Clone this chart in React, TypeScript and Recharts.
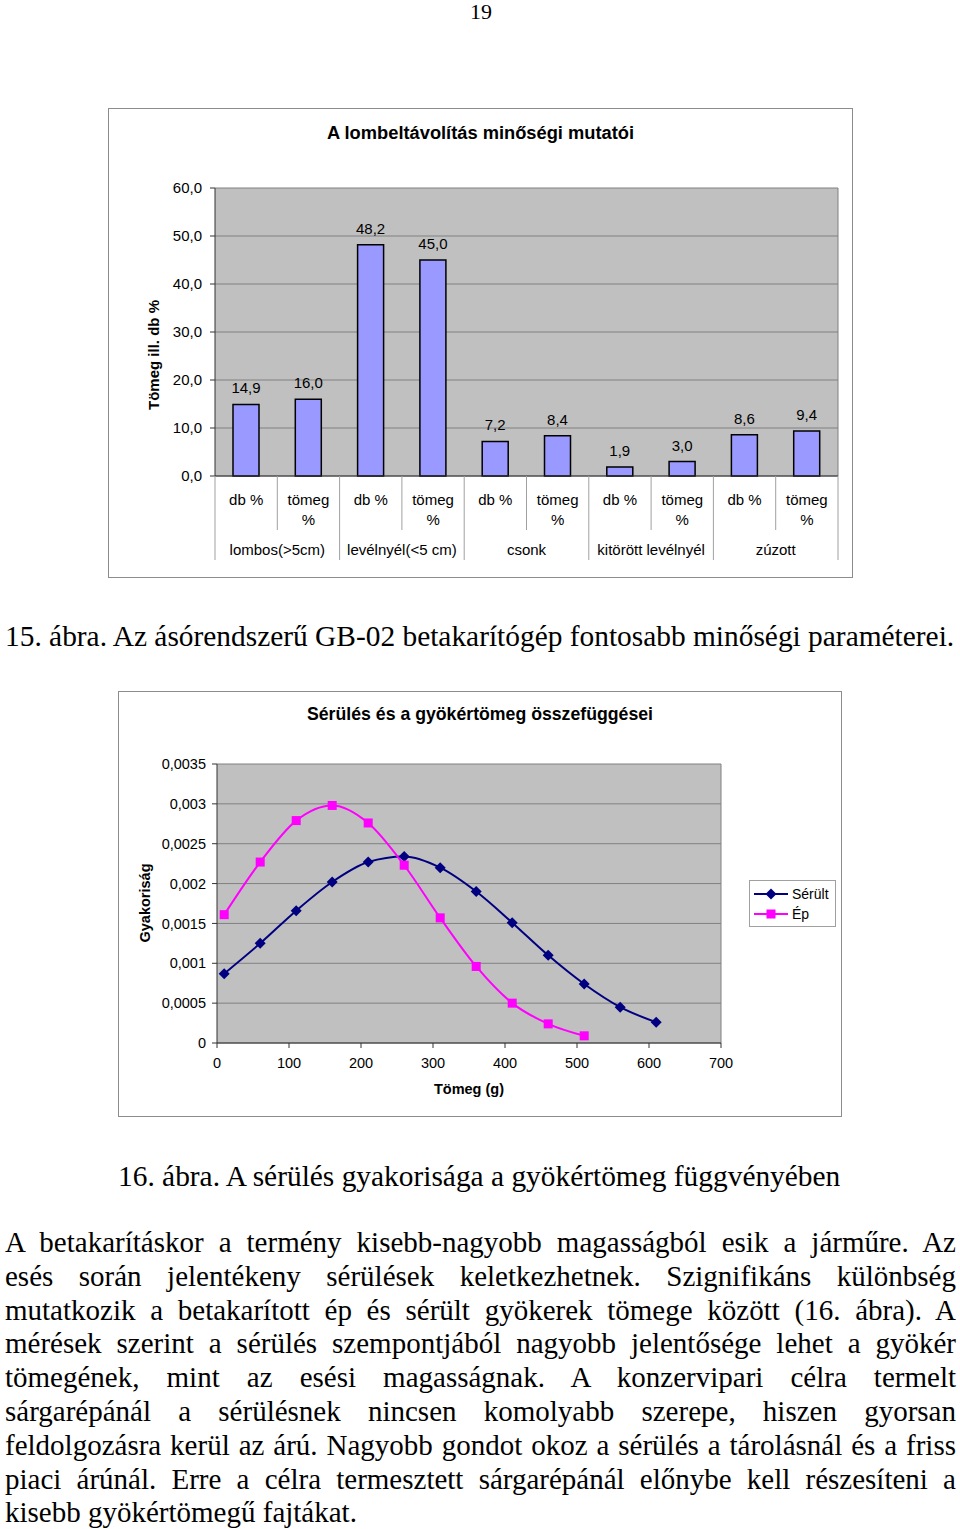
import React from "react";
import {
  BarChart,
  Bar,
  XAxis,
  YAxis,
  CartesianGrid,
  LabelList,
  LineChart,
  Line,
} from "recharts";

// --- 15. ábra: lombeltávolítás
const groups = ["lombos(>5cm)", "levélnyél(<5 cm)", "csonk", "kitörött levélnyél", "zúzott"];
const subs = ["db %", "tömeg %"];
const barValues = [14.9, 16.0, 48.2, 45.0, 7.2, 8.4, 1.9, 3.0, 8.6, 9.4];
const barTicks = [0, 10, 20, 30, 40, 50, 60];

// --- 16. ábra: sérülés / gyökértömeg
const serultX = [10, 60, 110, 160, 210, 260, 310, 360, 410, 460, 510, 560, 610];
const serultY = [0.00087, 0.00125, 0.00166, 0.00202, 0.00227, 0.00234, 0.0022, 0.0019, 0.00151, 0.0011, 0.00074, 0.00045, 0.00026];
const epX = [10, 60, 110, 160, 210, 260, 310, 360, 410, 460, 510];
const epY = [0.00161, 0.00227, 0.00279, 0.00298, 0.00276, 0.00223, 0.00157, 0.00096, 0.0005, 0.00024, 0.00009];
const massTicks = [0, 100, 200, 300, 400, 500, 600, 700];
const freqTicks = [0, 0.0005, 0.001, 0.0015, 0.002, 0.0025, 0.003, 0.0035];

const paragraph = [
  "A betakarításkor a termény kisebb-nagyobb magasságból esik a járműre. Az",
  "esés során jelentékeny sérülések keletkezhetnek. Szignifikáns különbség",
  "mutatkozik a betakarított ép és sérült gyökerek tömege között (16. ábra). A",
  "mérések szerint a sérülés szempontjából nagyobb jelentősége lehet a gyökér",
  "tömegének, mint az esési magasságnak. A konzervipari célra termelt",
  "sárgarépánál a sérülésnek nincsen komolyabb szerepe, hiszen gyorsan",
  "feldolgozásra kerül az árú. Nagyobb gondot okoz a sérülés a tárolásnál és a friss",
  "piaci árúnál. Erre a célra termesztett sárgarépánál előnybe kell részesíteni a",
  "kisebb gyökértömegű fajtákat.",
];

const barData = barValues.map((v, i) => ({
  sub: subs[i % 2],
  group: groups[Math.floor(i / 2)],
  value: v,
}));
const serultData = serultX.map((x, i) => ({ x, y: serultY[i] }));
const epData = epX.map((x, i) => ({ x, y: epY[i] }));

const SANS = "'Liberation Sans', Arial, sans-serif";
const comma = (v: number, d?: number) =>
  (d === undefined ? String(v) : v.toFixed(d)).replace(".", ",");

// bar chart geometry
const BW = 743;
const BH = 468;
const B_MARGIN = { top: 79, right: 14, bottom: 0, left: 46 };
const B_YAXIS_W = 60;
const B_PLOT_W = BW - B_MARGIN.left - B_MARGIN.right - B_YAXIS_W;
const SLOT = B_PLOT_W / barValues.length;

function BarTick(props: any) {
  const { x, y, index, payload } = props;
  const label: string = payload.value;
  const lines = label.startsWith("tömeg") ? label.split(" ") : [label];
  const left = x - SLOT / 2;
  const groupStart = index % 2 === 0;
  const last = index === barValues.length - 1;
  return (
    <g fontFamily={SANS} fontSize={15} fill="#000">
      {lines.map((l, k) => (
        <text key={k} x={x} y={y + 23 + 20 * k} textAnchor="middle" dominantBaseline="central" fill="#000">
          {l}
        </text>
      ))}
      <line x1={left} x2={left} y1={y} y2={y + (groupStart ? 84 : 54)} stroke="#a0a0a0" />
      {last && <line x1={x + SLOT / 2} x2={x + SLOT / 2} y1={y} y2={y + 84} stroke="#a0a0a0" />}
      {!groupStart && (
        <text x={left} y={y + 73} textAnchor="middle" dominantBaseline="central" fill="#000">
          {barData[index].group}
        </text>
      )}
    </g>
  );
}

function Diamond(props: any) {
  const { cx, cy, index } = props;
  const r = 5.5;
  return (
    <path
      key={`d${index}`}
      d={`M${cx},${cy - r}L${cx + r},${cy}L${cx},${cy + r}L${cx - r},${cy}Z`}
      fill="#000080"
    />
  );
}

function Square(props: any) {
  const { cx, cy, index } = props;
  const s = 9;
  return <rect key={`s${index}`} x={cx - s / 2} y={cy - s / 2} width={s} height={s} fill="#ff00ff" />;
}

function LineLegend() {
  const items = [
    { name: "Sérült", color: "#000080", shape: "d" },
    { name: "Ép", color: "#ff00ff", shape: "s" },
  ];
  return (
    <div
      style={{
        position: "absolute",
        left: 630,
        top: 188,
        width: 87,
        height: 47,
        border: "1px solid #a0a0a0",
        background: "#fff",
        fontFamily: SANS,
        fontSize: 14,
        boxSizing: "border-box",
        paddingTop: 3,
      }}
    >
      {items.map((it) => (
        <div key={it.name} style={{ display: "flex", alignItems: "center", height: 20 }}>
          <svg width={42} height={20}>
            <line x1={4} x2={38} y1={10} y2={10} stroke={it.color} strokeWidth={2} />
            {it.shape === "d" ? (
              <path d="M21,4.5L26.5,10L21,15.5L15.5,10Z" fill={it.color} />
            ) : (
              <rect x={16.5} y={5.5} width={9} height={9} fill={it.color} />
            )}
          </svg>
          <span>{it.name}</span>
        </div>
      ))}
    </div>
  );
}

export default function App() {
  return (
    <div
      style={{
        position: "absolute",
        left: 0,
        top: 0,
        width: 960,
        height: 1529,
        fontFamily: "'Liberation Serif', 'Times New Roman', serif",
        color: "#000",
        overflow: "hidden",
      }}
    >
      <div style={{ position: "absolute", left: 0, width: 962, top: 0, textAlign: "center", fontSize: 22, lineHeight: "24px" }}>19</div>

      {/* 15. ábra */}
      <div
        style={{
          position: "absolute",
          left: 108,
          top: 108,
          width: BW,
          height: BH,
          border: "1px solid #8c8c8c",
          background: "#fff",
        }}
      >
        <div
          style={{
            position: "absolute",
            left: 0,
            width: BW,
            top: 13,
            textAlign: "center",
            fontFamily: SANS,
            fontWeight: "bold",
            fontSize: 18.3,
          }}
        >
          A lombeltávolítás minőségi mutatói
        </div>
        <BarChart width={BW} height={BH} data={barData} margin={B_MARGIN}>
          <CartesianGrid
            fill="#c0c0c0"
            stroke="#808080"
            verticalCoordinatesGenerator={({ offset }: any) => [offset.left + offset.width]}
          />
          <XAxis
            dataKey="sub"
            height={101}
            tickSize={0}
            tickMargin={0}
            tickLine={false}
            axisLine={{ stroke: "#333" }}
            interval={0}
            tick={<BarTick />}
          />
          <YAxis
            domain={[0, 60]}
            ticks={barTicks}
            width={B_YAXIS_W}
            tickSize={5}
            tickMargin={8}
            axisLine={{ stroke: "#333" }}
            tickLine={{ stroke: "#333" }}
            tickFormatter={(v: number) => comma(v, 1)}
            tick={{ fontFamily: SANS, fontSize: 15, fill: "#000" }}
            label={(p: any) => (
              <text
                x={44}
                y={246}
                transform="rotate(-90 44 246)"
                textAnchor="middle"
                dominantBaseline="central"
                fontFamily={SANS}
                fontWeight="bold"
                fontSize={15}
                fill="#000"
              >
                Tömeg ill. db %
              </text>
            )}
          />
          <Bar dataKey="value" fill="#9999ff" stroke="#000" strokeWidth={1.5} barSize={26} isAnimationActive={false}>
            <LabelList
              dataKey="value"
              position="top"
              offset={11}
              formatter={(v: any) => comma(Number(v), 1)}
              style={{ fontFamily: SANS, fontSize: 15, fill: "#000" }}
            />
          </Bar>
        </BarChart>
      </div>

      <div style={{ position: "absolute", left: 5, top: 619, fontSize: 29.4, lineHeight: "34px", whiteSpace: "nowrap" }}>
        15. ábra. Az ásórendszerű GB-02 betakarítógép fontosabb minőségi paraméterei.
      </div>

      {/* 16. ábra */}
      <div
        style={{
          position: "absolute",
          left: 118,
          top: 691,
          width: 722,
          height: 424,
          border: "1px solid #8c8c8c",
          background: "#fff",
        }}
      >
        <div
          style={{
            position: "absolute",
            left: 0,
            width: 722,
            top: 12,
            textAlign: "center",
            fontFamily: SANS,
            fontWeight: "bold",
            fontSize: 17.7,
          }}
        >
          Sérülés és a gyökértömeg összefüggései
        </div>
        <LineChart width={722} height={424} margin={{ top: 72, right: 120, bottom: 33, left: 38 }}>
          <CartesianGrid
            fill="#c0c0c0"
            stroke="#808080"
            verticalCoordinatesGenerator={({ offset }: any) => [offset.left + offset.width]}
          />
          <XAxis
            type="number"
            dataKey="x"
            domain={[0, 700]}
            ticks={massTicks}
            height={40}
            tickSize={5}
            tickMargin={10}
            axisLine={{ stroke: "#333" }}
            tickLine={{ stroke: "#333" }}
            tick={{ fontFamily: SANS, fontSize: 14.5, fill: "#000" }}
            label={(p: any) => (
              <text x={350} y={397} textAnchor="middle" dominantBaseline="central" fontFamily={SANS} fontWeight="bold" fontSize={14.5} fill="#000">
                Tömeg (g)
              </text>
            )}
          />
          <YAxis
            type="number"
            domain={[0, 0.0035]}
            ticks={freqTicks}
            width={60}
            tickSize={5}
            tickMargin={6}
            axisLine={{ stroke: "#333" }}
            tickLine={{ stroke: "#333" }}
            tickFormatter={(v: number) => comma(v)}
            tick={{ fontFamily: SANS, fontSize: 14.5, fill: "#000" }}
            label={(p: any) => (
              <text
                x={26}
                y={211}
                transform="rotate(-90 26 211)"
                textAnchor="middle"
                dominantBaseline="central"
                fontFamily={SANS}
                fontWeight="bold"
                fontSize={14.5}
                fill="#000"
              >
                Gyakoriság
              </text>
            )}
          />
          <Line
            name="Sérült"
            data={serultData}
            dataKey="y"
            type="monotone"
            stroke="#000080"
            strokeWidth={2}
            dot={Diamond}
            activeDot={false}
            isAnimationActive={false}
          />
          <Line
            name="Ép"
            data={epData}
            dataKey="y"
            type="monotone"
            stroke="#ff00ff"
            strokeWidth={2}
            dot={Square}
            activeDot={false}
            isAnimationActive={false}
          />
        </LineChart>
        <LineLegend />
      </div>

      <div style={{ position: "absolute", left: 118, top: 1159, fontSize: 29.4, lineHeight: "34px", whiteSpace: "nowrap" }}>
        16. ábra. A sérülés gyakorisága a gyökértömeg függvényében
      </div>

      <div style={{ position: "absolute", left: 5, top: 1226, width: 951, fontSize: 29, lineHeight: "33.8px" }}>
        {paragraph.map((l, i) => (
          <div
            key={i}
            style={{
              textAlign: i === paragraph.length - 1 ? "left" : "justify",
              textAlignLast: i === paragraph.length - 1 ? "left" : "justify",
            }}
          >
            {l}
          </div>
        ))}
      </div>
    </div>
  );
}
